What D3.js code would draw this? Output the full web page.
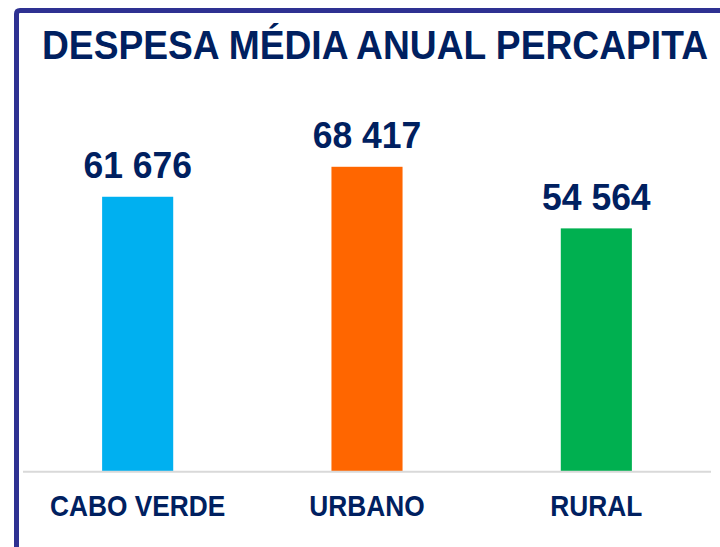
<!DOCTYPE html>
<html>
<head>
<meta charset="utf-8">
<script src="https://cdn.jsdelivr.net/npm/d3@7/dist/d3.min.js"></script>
<style>
  html, body { margin: 0; padding: 0; background: #fff; }
  svg { display: block; }
</style>
</head>
<body>
<svg id="chart" width="720" height="547"></svg>
<script>
// Average annual per-capita expenditure by area
const categories = ["CABO VERDE", "URBANO", "RURAL"];
const values = [61676, 68417, 54564];
const valueLabels = ["61 676", "68 417", "54 564"];
const barColors = ["#00b0f0", "#ff6600", "#00b050"];
const title = "DESPESA MÉDIA ANUAL PERCAPITA";

const W = 720, H = 547;
const navy = "#002060";
const frame = "#2e3192";

const svg = d3.select("#chart");

// Frame: top and left edges only
svg.append("path")
  .attr("d", "M16.5,547 V14 Q16.5,10.5 20,10.5 H720")
  .attr("fill", "none")
  .attr("stroke", frame)
  .attr("stroke-width", 5);

// Title
svg.append("text")
  .attr("transform", "translate(42,59) scale(1,1.08)")
  .attr("font-family", "Arial, 'Liberation Sans', sans-serif")
  .attr("font-weight", "bold")
  .attr("font-size", 36.8)
  .attr("textLength", 666)
  .attr("lengthAdjust", "spacingAndGlyphs")
  .attr("fill", navy)
  .text(title);

// Scales
const x = d3.scaleBand()
  .domain(categories)
  .range([23, 711])
  .paddingInner(0.69)
  .paddingOuter(0.345);

const baseY = 471;
const y = d3.scaleLinear()
  .domain([0, 80000])
  .range([baseY, baseY - 80000 / 224.9]);

// Bars
svg.append("g").selectAll("rect")
  .data(values)
  .join("rect")
  .attr("x", (d, i) => x(categories[i]))
  .attr("y", d => y(d))
  .attr("width", x.bandwidth())
  .attr("height", d => y(0) - y(d))
  .attr("fill", (d, i) => barColors[i]);

// Baseline
svg.append("line")
  .attr("x1", 23).attr("x2", 711)
  .attr("y1", baseY + 0.8).attr("y2", baseY + 0.8)
  .attr("stroke", "#d9d9d9")
  .attr("stroke-width", 2);

// Value labels
svg.append("g").selectAll("text")
  .data(values)
  .join("text")
  .attr("transform", (d, i) =>
    `translate(${x(categories[i]) + x.bandwidth() / 2},${y(d) - 18.5}) scale(1,1.04)`)
  .attr("text-anchor", "middle")
  .attr("font-family", "Arial, 'Liberation Sans', sans-serif")
  .attr("font-weight", "bold")
  .attr("font-size", 35.5)
  .attr("fill", navy)
  .text((d, i) => valueLabels[i]);

// Category labels
const catY = 515.5;
svg.append("g").selectAll("text")
  .data(categories)
  .join("text")
  .attr("transform", d => `translate(${x(d) + x.bandwidth() / 2},${catY}) scale(1,1.15)`)
  .attr("text-anchor", "middle")
  .attr("font-family", "Arial, 'Liberation Sans', sans-serif")
  .attr("font-weight", "bold")
  .attr("font-size", 26.3)
  .attr("fill", navy)
  .text(d => d);
</script>
</body>
</html>
